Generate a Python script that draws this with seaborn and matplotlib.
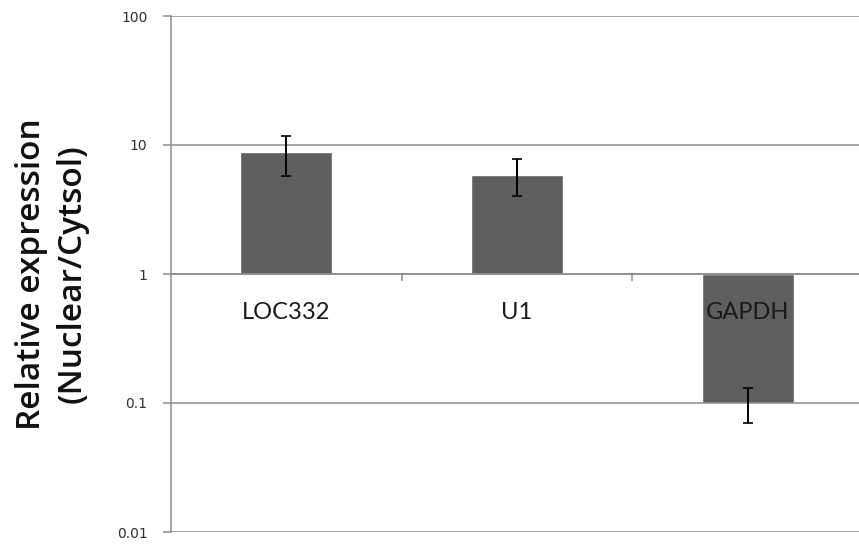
import numpy as np
import matplotlib
matplotlib.use("Agg")
import matplotlib.pyplot as plt
import seaborn as sns

# Nuclear / cytosol expression ratios with error (linear units)
categories = ["LOC332", "U1", "GAPDH"]
ratios = [8.8, 5.9, 0.1]
errors = [3.0, 1.9, 0.03]
ytick_labels = ["0.01", "0.1", "1", "10", "100"]
ytick_decades = [-2, -1, 0, 1, 2]

sns.set_theme(style="white")
plt.rcParams["font.family"] = ["Lato", "DejaVu Sans"]

ratios_arr = np.array(ratios)
err_arr = np.array(errors)
log_vals = np.log10(ratios_arr)
log_low = np.log10(ratios_arr - err_arr)
log_high = np.log10(ratios_arr + err_arr)

fig = plt.figure(figsize=(8.59, 5.44), dpi=100)
ax = fig.add_axes([171 / 859, 12 / 544, 692 / 859, 516 / 544])

grid_col = "#8c8c8c"

# Bars grow from 1 (log10 = 0) up or down
sns.barplot(x=categories, y=log_vals, color="#5f5f5f", saturation=1,
            width=0.4, errorbar=None, ax=ax, zorder=2)
ax.errorbar(np.arange(len(categories)), log_vals,
            yerr=[log_vals - log_low, log_high - log_vals],
            fmt="none", ecolor="black", elinewidth=1.4, capsize=3.6,
            capthick=1.2, zorder=3)

# Axis (and its tick labels) above the bars so GAPDH stays readable
ax.set_axisbelow(False)

ax.set_xlim(-0.5, len(categories) - 0.5)
ax.set_ylim(-2, 2)
ax.set_yticks(ytick_decades)
ax.set_yticklabels(ytick_labels, fontfamily="DejaVu Sans", fontsize=10,
                   color="#303030")
ax.yaxis.grid(True, color=grid_col, linewidth=1.1)

ax.tick_params(axis="y", which="major", direction="out", length=6,
               width=1.1, color=grid_col, pad=11, left=True)

# Category axis runs along the ratio = 1 line
for side in ("top", "right"):
    ax.spines[side].set_visible(False)
ax.spines["left"].set_color(grid_col)
ax.spines["left"].set_linewidth(1.1)
ax.spines["bottom"].set_position(("data", 0))
ax.spines["bottom"].set_color(grid_col)
ax.spines["bottom"].set_linewidth(1.1)

ax.set_xticks(np.arange(len(categories)))
ax.set_xticklabels(categories, fontsize=17, color="#1a1a1a")
ax.set_xticks(np.arange(len(categories) - 1) + 0.5, minor=True)
ax.tick_params(axis="x", which="major", length=0, pad=20)
ax.tick_params(axis="x", which="minor", direction="out", length=5,
               width=1.1, color=grid_col, bottom=True)
ax.set_xlabel("")

ax.set_ylabel("Relative expression\n(Nuclear/Cytsol)", fontsize=24,
              fontfamily=["Open Sans", "DejaVu Sans"],
              fontweight="semibold", color="#111111", linespacing=1.33,
              labelpad=20)

fig.savefig("out.png", dpi=100)
